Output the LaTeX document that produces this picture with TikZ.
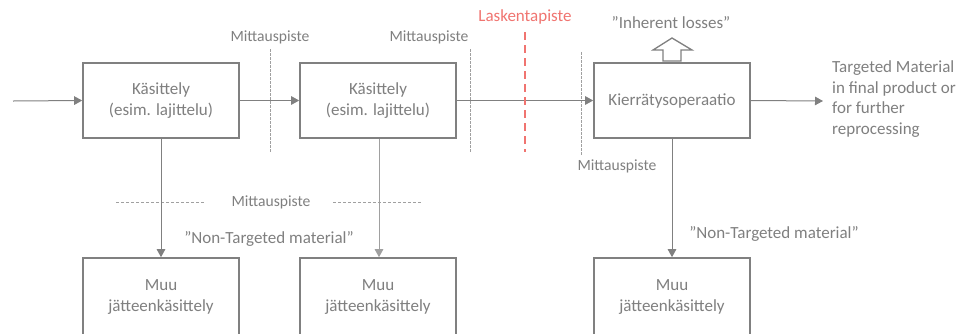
\documentclass[tikz,border=0pt]{standalone}
\usepackage{fontspec}
\setmainfont{Carlito}
\usetikzlibrary{arrows.meta}
\definecolor{ink}{HTML}{7F7F7F}
\definecolor{edge}{HTML}{808080}
\definecolor{guide}{HTML}{A0A0A0}
\definecolor{calc}{HTML}{F07470}
\tikzset{
  procbox/.style={draw=edge, line width=1.6pt, fill=white, minimum width=156pt,
    minimum height=75pt, align=center, text=ink, inner sep=0pt,
    font=\fontsize{17}{20.7}\selectfont},
  flow/.style={draw=edge, line width=1pt, -{Triangle[length=8pt,width=8.5pt]}},
  label/.style={text=ink, inner sep=0pt, font=\fontsize{17}{20.7}\selectfont},
  mlabel/.style={text=ink, inner sep=0pt, font=\fontsize{15.6}{19}\selectfont},
  mpoint/.style={draw=guide, line width=1pt, dash pattern=on 2.5pt off 1.5pt},
  hpoint/.style={draw=guide, line width=1pt, dash pattern=on 3pt off 2pt},
}
\begin{document}
\begin{tikzpicture}[x=1pt, y=-1pt]
\useasboundingbox (0,0) rectangle (973,333);
\clip (0,0) rectangle (973,333);

% process chain
\node[procbox] (k1) at (161,100.5) {Käsittely\\(esim. lajittelu)};
\node[procbox] (k2) at (378,100.5) {Käsittely\\(esim. lajittelu)};
\node[procbox] (kr) at (672,100.5) {Kierrätysoperaatio};

% other waste treatment (boxes run past the lower edge)
\node[procbox, minimum height=78pt] (m1) at (161,297) {Muu\\jätteenkäsittely};
\node[procbox, minimum height=78pt] (m2) at (378,297) {Muu\\jätteenkäsittely};
\node[procbox, minimum height=78pt] (m3) at (672,297) {Muu\\jätteenkäsittely};

% measuring points
\coordinate (p1t) at (270,49);  \coordinate (p1b) at (270,153);
\coordinate (p2t) at (470,49);  \coordinate (p2b) at (470,153);
\coordinate (p3t) at (581,52);  \coordinate (p3b) at (581,155);
\draw[mpoint] (p1t) -- (p1b);
\draw[mpoint] (p2t) -- (p2b);
\draw[mpoint] (p3t) -- (p3b);
\node[mlabel] (mp1) at (270,37) {Mittauspiste};
\node[mlabel] (mp2) at (429,37) {Mittauspiste};
\node[mlabel] (mp3) at (617,166) {Mittauspiste};
\node[mlabel] (mp4) at (271,202) {Mittauspiste};
% horizontal measuring line on both sides of its label
\coordinate (hla) at (116,202); \coordinate (hlb) at (205,202);
\coordinate (hra) at (333,202); \coordinate (hrb) at (422,202);
\draw[hpoint] (hla) -- (hlb);
\draw[hpoint] (hra) -- (hrb);

% flows
\coordinate (in) at (13,101);
\coordinate (out) at (823,101);
\draw[flow] (in) -- (k1.west);
\draw[flow] (k1.east) -- (k2.west);
\draw[flow] (k2.east) -- (kr.west);
\draw[flow] (kr.east) -- (out);
\draw[flow] (k1.south) -- (m1.north);
\draw[flow, draw=guide] ([xshift=1pt]k2.south) -- ([xshift=1pt]m2.north);
\draw[flow] (kr.south) -- (m3.north);

% calculation point
\coordinate (lt) at (525,32); \coordinate (lb) at (525,152);
\draw[draw=calc, line width=2.7pt, dash pattern=on 8pt off 5pt] (lt) -- (lb);
\node[label, text=calc] (lp) at (525,17) {Laskentapiste};

% inherent losses
\draw[draw=edge, line width=1.3pt, fill=white, line join=miter]
  (672,38) -- (692,50) -- (681,50) -- (681,61) -- (663,61) -- (663,50) -- (653,50) -- cycle;
\node[label] (il) at (671,23) {”Inherent losses”};

% material labels
\node[label] (nt1) at (269,239) {”Non-Targeted material”};
\node[label] (nt2) at (774,234) {”Non-Targeted material”};
\node[label, anchor=west, align=left] (tm) at (832,99)
  {Targeted Material\\in final product or\\for further\\reprocessing};
\end{tikzpicture}
\end{document}
